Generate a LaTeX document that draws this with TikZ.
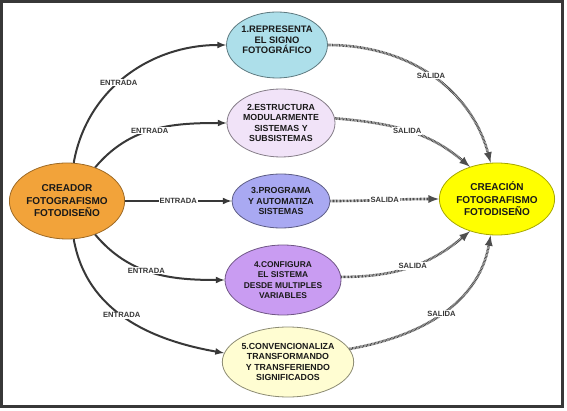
\documentclass[tikz,border=0pt]{standalone}
\usepackage{fontspec}
\setmainfont{Liberation Sans}
\usetikzlibrary{arrows,shapes}
\definecolor{naranja}{HTML}{F2A33A}
\definecolor{celeste}{HTML}{ADDFEA}
\definecolor{lila}{HTML}{F1E3F8}
\definecolor{azulado}{HTML}{A9A9F2}
\definecolor{morado}{HTML}{C99CF2}
\definecolor{crema}{HTML}{FFFDD2}
\definecolor{amarillo}{HTML}{FFFF00}
\definecolor{gris}{HTML}{383838}
\definecolor{grisclaro}{HTML}{4E4E4E}
\tikzstyle{idea}=[ellipse,draw,line width=0.8pt,inner sep=0pt,align=center,text=black!90]
\tikzstyle{polo}=[idea,font=\bfseries\fontsize{10}{12.5}\selectfont]
\tikzstyle{entrada}=[draw,line width=2pt,gris,-latex]
\tikzstyle{salida}=[draw,line width=2.6pt,grisclaro,dash pattern=on 0.8pt off 0.6pt,-latex]
\tikzstyle{etiqueta}=[font=\bfseries\fontsize{7.6}{9}\selectfont,text=gris,fill=white,inner sep=1pt]

\begin{document}
\begin{tikzpicture}[x=1pt,y=1pt]
    \useasboundingbox (0,0) rectangle (567,-411);
    \draw[line width=2.4pt,gris] (1.5,-1.5) rectangle (562.5,-406.5);

    % First we draw the two poles
    \node[polo,fill=naranja,draw=naranja!65!black,minimum width=112pt,minimum height=76pt] (creador) at (67,-201) {CREADOR\\FOTOGRAFISMO\\FOTODISEÑO};
    \node[polo,fill=amarillo,draw=amarillo!65!black,minimum width=110pt,minimum height=72pt] (creacion) at (497,-199) {CREACIÓN\\FOTOGRAFISMO\\FOTODISEÑO};

    % Then the five stages
    \foreach \pos/\name/\fondo/\ancho/\alto/\tam/\texto in {
        {(277,-45)/rep/celeste/100/66/9.4/{1.REPRESENTA\\EL SIGNO\\FOTOGRÁFICO\\ \mbox{}}},
        {(281,-123)/est/lila/108/68/8.8/{2.ESTRUCTURA\\MODULARMENTE\\SISTEMAS Y\\SUBSISTEMAS}},
        {(281,-201)/prog/azulado/98/54/8.8/{3.PROGRAMA\\Y AUTOMATIZA\\SISTEMAS}},
        {(283,-280)/conf/morado/116/70/8.4/{4.CONFIGURA\\EL SISTEMA\\DESDE MULTIPLES\\VARIABLES}},
        {(288,-362)/conv/crema/130/70/8.8/{5.CONVENCIONALIZA\\TRANSFORMANDO\\Y TRANSFERIENDO\\SIGNIFICADOS}}}
        \node[idea,fill=\fondo,draw=\fondo!55!black,minimum width=\ancho pt,minimum height=\alto pt,font=\bfseries\fontsize{\tam}{10.5}\selectfont] (\name) at \pos {\texto};

    % Connect the creator with every stage
    \foreach \source/\dest/\sal/\ent/\donde in {creador.80/rep.west/80/180/0.45, creador.50/est.west/50/180/0.47, creador.east/prog.west/0/180/0.5, creador.310/conf.west/310/180/0.45, creador.280/conv.172/280/170/0.47}
        \path[entrada] (\source) to[out=\sal,in=\ent] node[etiqueta,pos=\donde] {ENTRADA} (\dest);

    % Every stage leads to the creation
    \foreach \source/\dest/\sal/\ent/\donde in {rep.east/creacion.100/0/105/0.5, est.5/creacion.130/-5/140/0.5, prog.east/creacion.west/0/180/0.5, conf.3/creacion.230/0/220/0.52, conv.12/creacion.260/10/260/0.5}
        \path[salida] (\source) to[out=\sal,in=\ent] node[etiqueta,pos=\donde] {SALIDA} (\dest);

\end{tikzpicture}
\end{document}
